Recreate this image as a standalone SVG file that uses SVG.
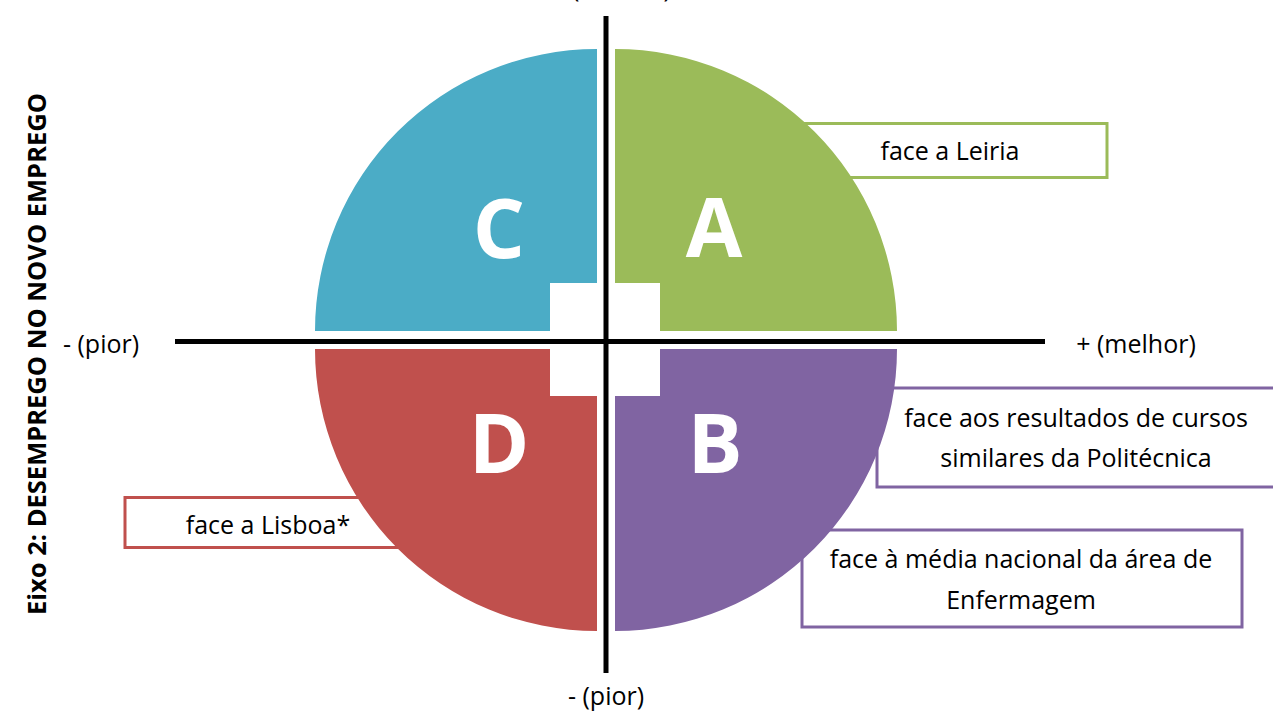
<svg xmlns="http://www.w3.org/2000/svg" width="1273" height="720" viewBox="0 0 1273 720">
  <style>
    .lbl { font-family: "Open Sans", "Liberation Sans", sans-serif; font-size: 25px; fill: #000; text-anchor: middle; }
    .big { font-family: "Open Sans", "Liberation Sans", sans-serif; font-size: 82px; font-weight: bold; fill: #fff; text-anchor: middle; }
    .axis-title { font-family: "Open Sans", "Liberation Sans", sans-serif; font-size: 25px; font-weight: bold; fill: #000; text-anchor: middle; }
    .box { fill: #fff; stroke-width: 3; }
    .axis { stroke: #000; stroke-width: 5; fill: none; }
  </style>
  <rect width="1273" height="720" fill="#fff"/>

  <!-- comparison boxes, sitting behind the quadrants -->
  <g id="box-leiria">
    <rect class="box" x="780" y="123.5" width="327" height="54" stroke="#9BBB59"/>
    <text class="lbl" x="950" y="160">face a Leiria</text>
  </g>
  <g id="box-politecnica">
    <rect class="box" x="877" y="388" width="420" height="99" stroke="#8064A2"/>
    <text class="lbl" x="1076" y="427">face aos resultados de cursos</text>
    <text class="lbl" x="1076" y="467">similares da Politécnica</text>
  </g>
  <g id="box-enfermagem">
    <rect class="box" x="802" y="530" width="440" height="97" stroke="#8064A2"/>
    <text class="lbl" x="1021" y="568">face à média nacional da área de</text>
    <text class="lbl" x="1021" y="609">Enfermagem</text>
  </g>
  <g id="box-lisboa">
    <rect class="box" x="125" y="497.5" width="300" height="50" stroke="#C0504D"/>
    <text class="lbl" x="268" y="534">face a Lisboa*</text>
  </g>

  <!-- quadrants: quarter discs with a square notch at the centre corner -->
  <g id="quadrant-C">
    <path d="M315,331 A282,282 0 0 1 597,49 L597,283 L550,283 L550,331 Z" fill="#4BACC6"/>
    <text class="big" x="499" y="258">C</text>
  </g>
  <g id="quadrant-A">
    <path d="M615,49 A282,282 0 0 1 897,331 L660,331 L660,283 L615,283 Z" fill="#9BBB59"/>
    <text class="big" x="714" y="257">A</text>
  </g>
  <g id="quadrant-D">
    <path d="M315,349 L550,349 L550,396 L597,396 L597,631 A282,282 0 0 1 315,349 Z" fill="#C0504D"/>
    <text class="big" x="499" y="473">D</text>
  </g>
  <g id="quadrant-B">
    <path d="M660,349 L897,349 A282,282 0 0 1 615,631 L615,396 L660,396 Z" fill="#8064A2"/>
    <text class="big" x="715" y="473">B</text>
  </g>

  <!-- axes -->
  <g id="axes">
    <line class="axis" x1="175" y1="341.5" x2="1045" y2="341.5"/>
    <line class="axis" x1="606" y1="16" x2="606" y2="673"/>
  </g>

  <g id="axis-labels">
    <text class="lbl" x="611" y="-3">+ (melhor)</text>
    <text class="lbl" x="606" y="705">- (pior)</text>
    <text class="lbl" x="101" y="353">- (pior)</text>
    <text class="lbl" x="1136" y="353">+ (melhor)</text>
    <text class="axis-title" transform="translate(46,354) rotate(-90)" textLength="522" lengthAdjust="spacingAndGlyphs">Eixo 2: DESEMPREGO NO NOVO EMPREGO</text>
  </g>
</svg>
